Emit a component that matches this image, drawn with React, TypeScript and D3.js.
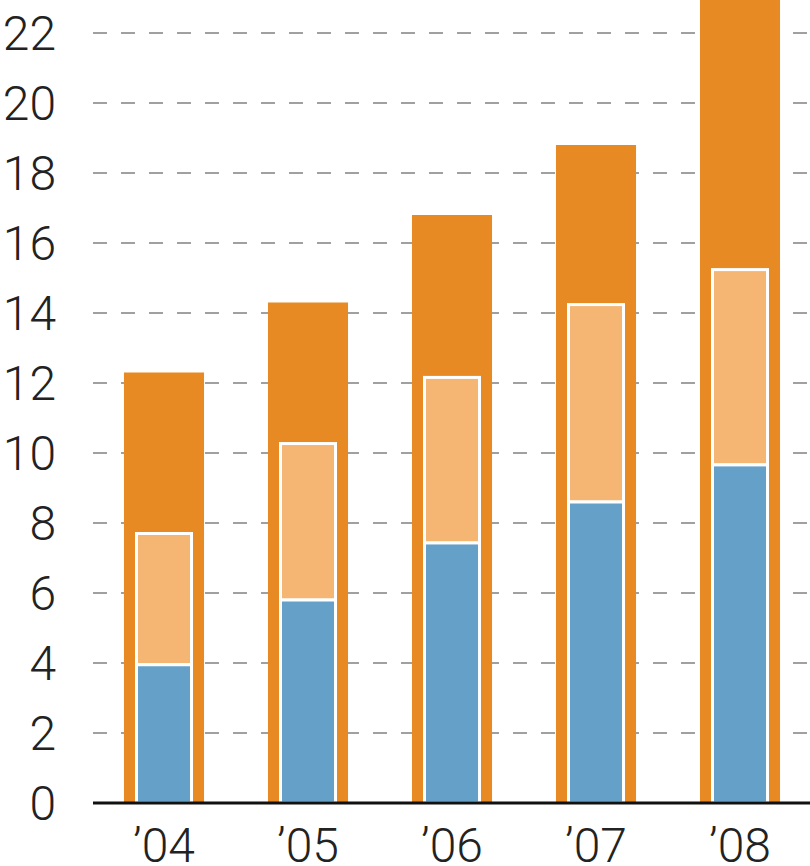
import React from 'react';
import * as d3 from 'd3';

const years = ["'04", "'05", "'06", "'07", "'08"];
// cumulative heights of the three stacked layers
const totalValues = [12.3, 14.3, 16.8, 18.8, 23.5];
const innerTopValues = [7.7, 10.27, 12.16, 14.24, 15.24];
const blueValues = [3.95, 5.8, 7.43, 8.6, 9.66];
const yTicks = [0, 2, 4, 6, 8, 10, 12, 14, 16, 18, 20, 22];

const W = 810;
const H = 866;
const baseY = 803;

export default function App() {
  const y = d3.scaleLinear().domain([0, 22]).range([baseY, 33]);
  const x = d3
    .scaleBand<string>()
    .domain(years)
    .range([92, 812])
    .paddingInner(0.444)
    .paddingOuter(0.222);

  const innerW = 55;
  const font = 'Roboto, "Noto Sans", sans-serif';

  return (
    <svg width={W} height={H} style={{ position: 'absolute', left: 0, top: 0 }}>
      <rect width={W} height={H} fill="#fff" />
      {/* grid */}
      {yTicks.filter(t => t > 0).map(t => (
        <line
          key={t}
          x1={93}
          x2={W}
          y1={y(t)}
          y2={y(t)}
          stroke="#a0a0a0"
          strokeWidth={2}
          strokeDasharray="14,14"
        />
      ))}
      {/* tick labels */}
      {yTicks.map(t => (
        <text
          key={t}
          x={56}
          y={y(t)}
          dy="0.36em"
          textAnchor="end"
          fontFamily={font}
          fontWeight={300}
          fontSize={48}
          fill="#222"
        >
          {t}
        </text>
      ))}
      {/* bars */}
      {years.map((yr, i) => {
        const bx = x(yr) as number;
        const cx = bx + x.bandwidth() / 2;
        return (
          <g key={yr}>
            <rect
              x={bx}
              y={y(totalValues[i])}
              width={x.bandwidth()}
              height={baseY - y(totalValues[i])}
              fill="#e88a23"
            />
            <rect
              x={cx - innerW / 2}
              y={y(innerTopValues[i])}
              width={innerW}
              height={y(blueValues[i]) - y(innerTopValues[i])}
              fill="#f4b672"
              stroke="#fff"
              strokeWidth={3}
            />
            <rect
              x={cx - innerW / 2}
              y={y(blueValues[i])}
              width={innerW}
              height={baseY - y(blueValues[i])}
              fill="#64a0c8"
              stroke="#fff"
              strokeWidth={3}
            />
            <text
              x={cx}
              y={862}
              textAnchor="middle"
              fontFamily={font}
              fontWeight={300}
              fontSize={48}
              fill="#222"
            >
              {yr.replace("'", '\u2019')}
            </text>
          </g>
        );
      })}
      {/* baseline */}
      <line x1={93} x2={W} y1={baseY} y2={baseY} stroke="#111" strokeWidth={3} />
    </svg>
  );
}
